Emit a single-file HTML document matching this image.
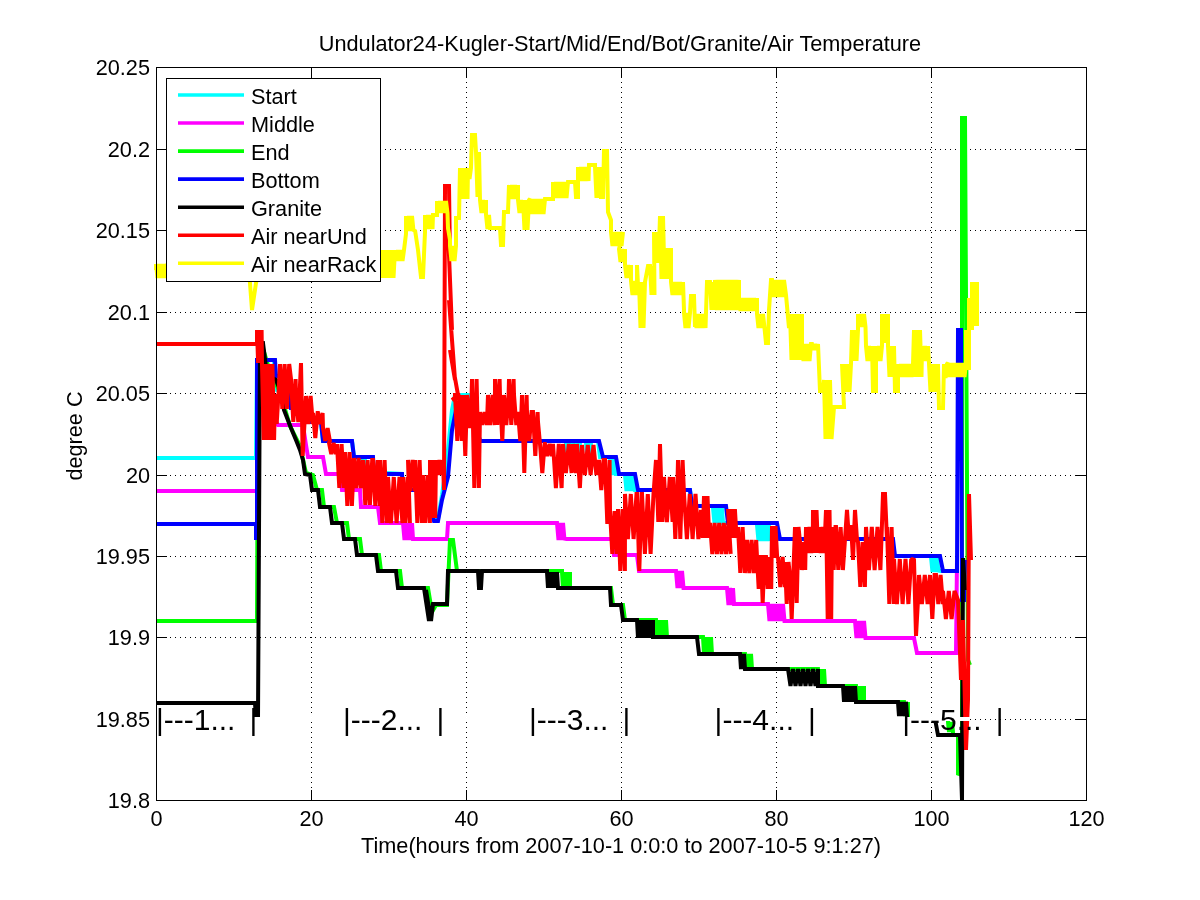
<!DOCTYPE html><html><head><meta charset="utf-8"><title>Undulator24 Temperature</title><style>html,body{margin:0;padding:0;background:#fff;width:1200px;height:900px;overflow:hidden}svg{display:block}</style></head><body><svg width="1200" height="900" viewBox="0 0 1200 900">
<rect x="0" y="0" width="1200" height="900" fill="#fff"/>
<g stroke="#000" stroke-width="1" stroke-dasharray="1 4" shape-rendering="crispEdges"><line x1="311.5" y1="67" x2="311.5" y2="800" /><line x1="466.5" y1="67" x2="466.5" y2="800" /><line x1="621.5" y1="67" x2="621.5" y2="800" /><line x1="776.5" y1="67" x2="776.5" y2="800" /><line x1="931.5" y1="67" x2="931.5" y2="800" /><line x1="160" y1="719.5" x2="1086" y2="719.5" /><line x1="160" y1="637.5" x2="1086" y2="637.5" /><line x1="160" y1="556.5" x2="1086" y2="556.5" /><line x1="160" y1="475.5" x2="1086" y2="475.5" /><line x1="160" y1="393.5" x2="1086" y2="393.5" /><line x1="160" y1="312.5" x2="1086" y2="312.5" /><line x1="160" y1="230.5" x2="1086" y2="230.5" /><line x1="160" y1="149.5" x2="1086" y2="149.5" /></g>
<g fill="none" stroke-width="4" stroke-linejoin="miter" stroke-miterlimit="1.5" stroke-linecap="butt">
<polyline stroke="#00ffff" points="156,458 256,458 257,360 274,360 275,376 277,390 290,393 291,408 303,408 304,422 321,422 323,441 352,441 354,457 365,460 368,472 402,474 403,490 420,490 430,506 434,519 438,519 442,495 447,460 452,410 455,395 470,395 472,408 476,425 480,441 566,441 566,443 567.5,457 569,443 570.5,457 572,443 573.5,457 575,443 576.5,457 578,443 579.5,457 580,441 582,441 586,441 586,443 587.5,458 589,443 590.5,458 591,441 598,441 600,457 610,457 610,458 611.5,475 613,458 614.5,475 616,458 616,474 625,474 625,475 626.5,491 628,475 629.5,491 631,475 632.5,491 634,475 635,490 690,490 692,506 713,506 713,508 714.5,523 716,508 717.5,523 719,508 720.5,523 722,508 723,523 757,523 757,525 758.5,541 760,525 761.5,541 763,525 764.5,541 766,525 767.5,541 769,525 770,539 891,539 893,556 931,556 931,557 932.5,572 934,557 935.5,572 937,557 938.5,572 939,571 957,571"/>
<polyline stroke="#ff00ff" points="156,491 257,491 257,440 262,380 270,410 278,425 303,425 306,445 308,457 323,457 326,474 340,474 342,490 360,490 361,507 378,507 380,523 403,523 403,523 404.5,540 406,523 407.5,540 409,523 410.5,540 412,523 413,539 447,539 448,523 557,523 557,523 558.5,540 560,523 561.5,540 563,523 564.5,540 565,539 612,539 614,555 637,555 639,571 676,571 676,571 677.5,588 679,571 680.5,588 682,571 683.5,588 684,588 727,588 727,588 728.5,605 730,588 731.5,605 733,588 734,604 768,604 768,604 769.5,621 771,604 772.5,621 774,604 775.5,621 777,604 778.5,621 780,604 781.5,621 783,604 784.5,621 785,621 855,621 855,621 856.5,638 858,621 859.5,638 861,621 862.5,638 864,621 865.5,638 866,638 914,638 917,653 956,653 957,560"/>
<polyline stroke="#00ff00" points="156,621 257,621 258,360 262,345 270,372 280,392 290,426 300,446 306,473 313,475 317,490 322,490 324,507 334,507 337,523 347,523 349,539 360,539 362,555 379,555 381,571 400,571 402,588 428,588 432,612 436,605 447,605 450,540 453,540 457,571 562,571 562,572 563,588 564,572 565,588 566,572 567,588 568,572 569,588 570,572 570,588 611,588 613,605 623,605 625,620 656,620 656,620 657,637 658,620 659,637 660,620 661,637 662,620 663,637 664,620 665,637 666,620 667,637 667,637 703,637 703,637 704,654 705,637 706,654 707,637 708,654 709,637 710,654 711,637 712,654 712,654 745,654 745,654 746,669 747,654 748,669 749,654 750,669 751,654 752,669 752,669 818,669 818,669 819,686 820,669 821,686 822,669 823,686 824,669 825,686 825,686 856,686 856,686 857,702 858,686 859,702 860,686 861,702 862,686 863,702 864,686 864,702 904,702 904,702 905,716 906,702 907,716 908,702 908,719 948,719 948,722 949,732 950,722 951,732 952,722 953,732 953,735 958,735 958,775 962,770 962,118 965,118 968,660 970,665"/>
<polyline stroke="#0000ff" points="156,524 256,524 256,538 257,538 257,360 275,360 276,376 280,376 281,393 290,393 291,408 303,408 304,422 321,422 323,441 352,441 354,457 373,457 374,474 402,474 403,490 420,490 430,506 434,521 438,521 442,500 448,477 452,430 456,410 472,410 476,425 480,441 599,441 603,457 616,457 619,474 635,474 638,490 690,490 692,506 726,506 728,523 777,523 780,539 893,539 895,556 940,556 943,571 957,571 958,330 961,330 962,600 964,600 965,560"/>
<polyline stroke="#000000" points="156,703 255,703 256,719 258,719 260,343 263,343 267,375 276,380 282,395 284,410 291,428 296,440 300,450 303,460 305,474 310,475 312,490 318,490 320,507 330,507 332,523 342,523 344,539 355,539 357,555 376,555 378,571 396,571 398,588 424,588 429,621 426,590 431,621 433,604 447,604 448,571 478,571 479,588 481,588 482,571 547,571 547,572 548,588 549,572 550,588 551,572 552,588 553,572 554,588 555,572 556,588 557,572 558,588 558,588 610,588 611,605 621,605 623,620 637,620 637,620 638,638 639,620 640,638 641,620 642,638 643,620 644,638 645,620 646,638 647,620 648,638 649,620 650,638 651,620 652,638 653,620 653,637 697,637 699,654 740,654 740,654 741,669 742,654 743,669 744,654 745,669 745,669 788,669 788,669 790.5,686 793,669 795.5,686 798,669 800.5,686 803,669 805.5,686 808,669 810.5,686 813,669 815.5,686 818,669 818,686 843,686 843,686 844,702 845,686 846,702 847,686 848,702 849,686 850,702 851,686 852,702 853,686 854,702 855,686 856,702 856,702 898,702 898,702 899,716 900,702 901,716 902,702 903,716 904,702 905,716 906,702 907,716 907,719 935,719 938,735 960,735 962,800 963,558 965,590"/>
<polyline stroke="#ff0000" points="156,344 255,344 257,344 257,330 258.1,363 259.3,330 260.4,363 261.6,330 262,364 263.7,440 265.5,364 267.2,440 268.9,364 270.6,440 272.4,364 274.1,440 275,394 276.7,424 278.5,394 280,364 282.3,409 284.6,364 286.9,409 289.2,364 291,379 293.3,422 295.6,379 296,396 298.3,422 301,363 302.7,456 306,396 308.3,424 310.6,396 312.9,424 313,413 315.3,438 317.6,413 318,413 320.3,424 322.6,413 323,428 325.3,441 327.6,428 329.9,441 329,443 331.3,454 333.6,443 335.9,454 337,444 339.3,488 341.6,444 343.9,488 345,452 347.3,506 349.6,452 351.9,506 354,458 356.3,488 358.6,458 360.9,488 363,460 365.3,505 367.6,460 369.9,505 372.2,460 373,460 375.3,506 377.6,460 379.9,506 380,460 382.3,523 384.6,460 386.9,523 388,477 390.9,523 393.8,477 396.6,523 399.5,477 402.4,523 403,477 405.3,523 407.6,477 409.9,523 408,460 410.3,491 412.6,460 414.9,491 415,460 417.3,523 419.6,460 421.9,523 423,475 425.3,523 427.6,475 429.9,523 430,460 431.7,518 433.5,460 435.2,518 436,460 437.7,475 439.5,460 441.2,475 442.9,460 444,490 445,186 449,186 450,260 448,230 452,330 449,300 455,380 450,350 458,395 452,400 460,395 455,395 457.3,441 459.6,395 461.9,441 463,395 465.3,456 467,395 469.3,428 471.6,395 472,379 474.3,488 476.6,379 478.9,488 480,412 482.3,425 484.6,412 486.9,425 488,395 490.3,425 492.6,395 494.9,425 495,379 497.3,425 499.6,379 500,395 502.3,441 504,395 506.3,425 508.6,395 509,379 511.3,425 513.6,379 514,395 516.3,425 518,412 520.3,441 522,395 524.3,473 526.6,395 527,412 529.3,441 531.6,412 533,412 535.3,456 537.6,412 538,422 540,444 542.3,473 544.6,444 545,444 547.3,456 549.6,444 551.9,456 553,444 555.9,488 558.8,444 561.6,488 563,444 565.9,473 568.8,444 571.6,473 573,444 575.9,473 577,444 579.9,488 582,445 584.9,475 587.8,445 590.6,475 593.5,445 596.4,475 599,460 601.3,490 603.6,460 605,460 607.3,524 609.6,460 610,511 612.3,554 614.6,511 616.9,554 618,509 620.3,571 622.6,509 624.9,571 625,494 627.9,539 630.8,494 633.6,539 636.5,494 637,494 639.3,571 641.6,494 642,494 644.9,554 647.8,494 650.6,554 653.5,494 656,460 658.3,522 660,444 662.3,522 664,477 666.9,522 669.8,477 672.6,522 673,477 675.3,539 677.6,477 678,460 680.3,539 682.6,460 684,494 686.9,539 689.8,494 692.6,539 695.5,494 698.4,539 701,510 702.7,538 704,496 705.7,538 707.5,496 709.2,538 710,523 712.3,554 714.6,523 716.9,554 719.2,523 721.5,554 723.8,523 726.1,554 728.4,523 730.7,554 728,509 729.7,538 731.5,509 733.2,538 734.9,509 736.6,538 738,527 740.3,573 742.6,527 744.9,573 747,540 749.3,573 751.6,540 753.9,573 756.2,540 757,557 758.7,589 760.5,557 761,557 762.7,603 764.5,557 766,557 767.7,589 769.5,557 771.2,589 772,526 773.7,558 775.5,526 777.2,558 778,557 780.3,587 782.6,557 784.9,587 785,562 786.7,604 788.5,562 790,577 791.7,619 795,527 796.7,603 798.5,527 800,542 801.7,570 803.5,542 805.2,570 806,527 807.7,553 809.5,527 811.2,553 812.9,527 813,510 814.7,553 816.5,510 818.2,553 819,527 820.7,553 822.5,527 824.2,553 826,510 827.7,619 829.5,510 831.2,619 832,527 833.7,570 835.5,527 836,527 838.3,570 840.6,527 842.9,570 847,510 849,540 851,525 853,560 855,510 857,540 858,542 860.3,587 862.6,542 864.9,587 866,527 868.9,570 871.8,527 874.6,570 877.5,527 880.4,570 883,494 885,494 887,540 887,527 889.3,604 891.6,527 893.9,604 894,559 896.9,604 899.8,559 902.6,604 905.5,559 908.4,604 911.2,559 914,560 916,636 918,600 919,575 921.9,604 924.8,575 927.6,604 930,575 932.3,619 934.6,575 936,575 938.3,604 940.6,575 942.9,604 943,591 945.9,619 948.8,591 951.6,619 954.5,591 958,600 961,680 963,620 966,750 968,700 969,494 971,560"/>
<polyline stroke="#ffff00" points="156,270 156,264 157.5,278 159,264 160.5,278 162,264 163.5,278 165,264 166.5,278 168,264 169.5,278 171,264 172.5,278 174,264 175.5,278 177,264 178.5,278 180,264 181.5,278 183,264 184.5,278 186,264 187.5,278 189,264 190.5,278 192,264 193.5,278 195,264 196.5,278 198,264 199.5,278 201,264 202.5,278 204,264 205.5,278 207,264 208.5,278 210,264 211.5,278 213,264 214.5,278 216,264 217.5,278 219,264 220.5,278 222,264 223.5,278 225,264 226.5,278 228,264 229.5,278 231,264 232.5,278 234,264 235.5,278 237,264 238.5,278 240,264 241.5,278 243,264 244.5,278 246,264 247.5,278 249,264 250.5,278 252,264 253.5,278 255,264 256.5,278 258,264 259.5,278 261,264 166,265 170,277 200,265 248,265 249,270 252,310 256,283 259,270 300,270 340,275 378,265 380,250 381.5,278 383,250 384.5,278 386,250 387.5,278 389,250 390.5,278 392,250 393.5,278 395,250 395,250 396.5,261 398,250 399.5,261 401,250 402.5,261 404,250 404,250 406,234 406,216 407.5,231 409,216 410.5,231 412,216 413.5,231 415,230 418,250 421,277 423,277 425,232 425,215 426.5,229 428,215 429.5,229 431,215 432.5,229 433,215 437,215 437,201 438.5,213 440,201 441.5,213 443,201 444.5,213 446,201 447.5,213 448,228 450,240 450,246 451.5,261 453,246 454.5,261 456,246 456,218 459,218 460,168 461.5,199 463,168 464.5,199 466,168 467.5,199 468,168 469.5,179 471,168 472,135 475,135 476,152 477.5,197 479,152 480,200 481.5,213 483,200 484.5,213 486,200 486,215 487.5,229 489,215 490,228 500,228 501,245 503,245 504,212 508,212 509,185 510.5,199 512,185 513.5,199 515,185 516.5,199 518,185 518,200 519.5,213 521,200 522.5,213 523,200 524.5,230 526,200 527.5,230 529,200 530,199 531.5,214 533,199 534.5,214 536,199 537.5,214 539,199 540.5,214 542,199 543.5,214 545,199 545,199 553,199 553,182 554.5,198 556,182 557.5,198 559,182 560.5,198 562,182 563.5,198 565,182 566.5,198 568,182 569,182 575,182 576,197 578,197 578,167 579.5,181 581,167 582.5,181 584,167 585.5,181 587,167 588.5,181 589,165 595,165 595,167 596.5,198 598,167 599.5,198 601,167 601,197 603,197 604,151 607,151 608,212 611,220 611,232 612.5,246 614,232 615.5,246 617,232 618.5,246 620,232 621.5,246 623,232 619,249 620.5,262 622,249 623.5,262 625,249 625,265 626.5,278 628,265 629.5,278 631,265 631,281 632.5,295 634,281 635.5,295 637,281 637,265 638.5,295 639,282 640.5,328 642,282 643.5,328 645,282 648,266 650,266 651.5,295 653,266 654.5,295 654,232 655.5,263 657,232 658.5,263 660,216 661.5,279 663,216 664.5,279 665,248 666.5,279 668,248 669.5,279 671,248 671,282 672.5,295 674,282 675.5,295 677,282 678.5,295 680,282 681.5,295 683,282 684,310 684,313 685.5,328 687,313 688.5,328 690,313 691,296 694,296 695,327 695,314 696.5,328 698,314 699.5,328 701,314 702.5,328 704,314 705.5,328 707,282 710,282 710,282 711.5,310 713,282 714.5,310 715,280 717,310 719,280 721,310 723,280 725,310 727,280 729,310 731,280 733,310 735,280 737,310 739,280 739,298 740.5,311 742,298 743.5,311 745,298 746.5,311 748,298 749.5,311 751,298 752.5,311 754,298 755.5,311 757,298 757,314 758.5,328 760,314 761.5,328 763,314 764.5,328 766,343 768,343 769,310 771,280 772,280 773.5,297 775,280 776.5,297 778,280 779.5,297 781,280 782.5,297 784,280 786,295 789,328 790,314 791.5,360 793,314 794.5,360 796,314 797.5,360 799,314 800.5,360 802,314 802,344 803.5,361 805,344 806.5,361 808,344 809.5,361 811,344 812,344 813.5,350 815,344 816.5,350 818,344 820,391 823,391 824,380 825.5,439 827,380 828.5,439 830,380 831.5,439 834,407 844,407 842,364 843.5,392 845,364 846.5,392 848,364 849.5,392 851,364 852,330 853.5,361 855,330 856.5,361 858,330 858,314 859.5,327 861,314 862.5,327 864,314 865.5,327 866,346 867.5,361 869,346 870.5,361 872,346 873,391 876,391 876,346 877.5,361 879,346 880.5,361 882,346 882,314 883.5,343 885,314 886.5,343 888,314 888,346 889.5,377 891,346 892.5,377 894,346 895,391 898,391 898,364 899.5,377 901,364 902.5,377 904,364 905.5,377 907,364 908.5,377 910,364 911.5,377 913,364 914,330 915.5,377 917,330 918.5,377 920,330 921.5,377 922,346 923.5,361 925,346 926.5,361 928,346 929,364 930.5,392 932,364 933.5,392 935,364 936.5,392 938,364 939,408 943,408 944,364 945.5,378 947,364 948,363 949.5,377 951,363 952.5,377 954,363 955.5,377 957,363 958.5,377 960,363 961.5,377 963,363 964.5,377 966,363 966,364 966,330 967,370 968,330 969,370 969,298 970,330 971,298 972,330 972,282 973,326 974,282 975,326 976,282 977,326 977,282"/>
</g>
<g stroke="#000" stroke-width="1" shape-rendering="crispEdges"><line x1="156.5" y1="800" x2="156.5" y2="790"/><line x1="156.5" y1="67" x2="156.5" y2="78"/><line x1="311.5" y1="800" x2="311.5" y2="790"/><line x1="311.5" y1="67" x2="311.5" y2="78"/><line x1="466.5" y1="800" x2="466.5" y2="790"/><line x1="466.5" y1="67" x2="466.5" y2="78"/><line x1="621.5" y1="800" x2="621.5" y2="790"/><line x1="621.5" y1="67" x2="621.5" y2="78"/><line x1="776.5" y1="800" x2="776.5" y2="790"/><line x1="776.5" y1="67" x2="776.5" y2="78"/><line x1="931.5" y1="800" x2="931.5" y2="790"/><line x1="931.5" y1="67" x2="931.5" y2="78"/><line x1="1086.5" y1="800" x2="1086.5" y2="790"/><line x1="1086.5" y1="67" x2="1086.5" y2="78"/><line x1="156" y1="800.5" x2="167" y2="800.5"/><line x1="1087" y1="800.5" x2="1075" y2="800.5"/><line x1="156" y1="719.5" x2="167" y2="719.5"/><line x1="1087" y1="719.5" x2="1075" y2="719.5"/><line x1="156" y1="637.5" x2="167" y2="637.5"/><line x1="1087" y1="637.5" x2="1075" y2="637.5"/><line x1="156" y1="556.5" x2="167" y2="556.5"/><line x1="1087" y1="556.5" x2="1075" y2="556.5"/><line x1="156" y1="475.5" x2="167" y2="475.5"/><line x1="1087" y1="475.5" x2="1075" y2="475.5"/><line x1="156" y1="393.5" x2="167" y2="393.5"/><line x1="1087" y1="393.5" x2="1075" y2="393.5"/><line x1="156" y1="312.5" x2="167" y2="312.5"/><line x1="1087" y1="312.5" x2="1075" y2="312.5"/><line x1="156" y1="230.5" x2="167" y2="230.5"/><line x1="1087" y1="230.5" x2="1075" y2="230.5"/><line x1="156" y1="149.5" x2="167" y2="149.5"/><line x1="1087" y1="149.5" x2="1075" y2="149.5"/><line x1="156" y1="67.5" x2="167" y2="67.5"/><line x1="1087" y1="67.5" x2="1075" y2="67.5"/></g>
<polyline fill="none" stroke="#fff" stroke-width="4" points="157,719 970,719"/>
<g stroke="#000" stroke-width="1" shape-rendering="crispEdges"><rect x="156.5" y="67.5" width="930" height="733" fill="none"/></g>
<g font-family="Liberation Sans, Arial, sans-serif" font-size="21.7" fill="#000">
<text x="156.5" y="826" text-anchor="middle">0</text>
<text x="311.5" y="826" text-anchor="middle">20</text>
<text x="466.5" y="826" text-anchor="middle">40</text>
<text x="621.5" y="826" text-anchor="middle">60</text>
<text x="776.5" y="826" text-anchor="middle">80</text>
<text x="931.5" y="826" text-anchor="middle">100</text>
<text x="1086.5" y="826" text-anchor="middle">120</text>
<text x="150" y="807.5" text-anchor="end">19.8</text>
<text x="150" y="726.5" text-anchor="end">19.85</text>
<text x="150" y="644.5" text-anchor="end">19.9</text>
<text x="150" y="563.5" text-anchor="end">19.95</text>
<text x="150" y="482.5" text-anchor="end">20</text>
<text x="150" y="400.5" text-anchor="end">20.05</text>
<text x="150" y="319.5" text-anchor="end">20.1</text>
<text x="150" y="237.5" text-anchor="end">20.15</text>
<text x="150" y="156.5" text-anchor="end">20.2</text>
<text x="150" y="74.5" text-anchor="end">20.25</text>
<text x="620" y="51" text-anchor="middle">Undulator24-Kugler-Start/Mid/End/Bot/Granite/Air Temperature</text>
<text x="621" y="853" text-anchor="middle">Time(hours from 2007-10-1 0:0:0 to 2007-10-5 9:1:27)</text>
<text transform="translate(82,436) rotate(-90)" text-anchor="middle">degree C</text>
</g>
<g font-family="Liberation Sans, Arial, sans-serif" font-size="30" fill="#000"><text x="156" y="730">|---1...</text><text x="249.5" y="730">|</text><text x="343" y="730">|---2...</text><text x="436.5" y="730">|</text><text x="529" y="730">|---3...</text><text x="622.5" y="730">|</text><text x="714.6" y="730">|---4...</text><text x="808.1" y="730">|</text><text x="902.2" y="730">|---5...</text><text x="995.7" y="730">|</text></g>
<rect x="166.5" y="78.5" width="214" height="203" fill="#fff" stroke="#000" stroke-width="1" shape-rendering="crispEdges"/>
<g font-family="Liberation Sans, Arial, sans-serif" font-size="21.7" fill="#000">
<line x1="178" y1="95.00" x2="244" y2="95.00" stroke="#00ffff" stroke-width="3.6"/>
<text x="251" y="103.50">Start</text>
<line x1="178" y1="123.05" x2="244" y2="123.05" stroke="#ff00ff" stroke-width="3.6"/>
<text x="251" y="131.55">Middle</text>
<line x1="178" y1="151.10" x2="244" y2="151.10" stroke="#00ff00" stroke-width="3.6"/>
<text x="251" y="159.60">End</text>
<line x1="178" y1="179.15" x2="244" y2="179.15" stroke="#0000ff" stroke-width="3.6"/>
<text x="251" y="187.65">Bottom</text>
<line x1="178" y1="207.20" x2="244" y2="207.20" stroke="#000000" stroke-width="3.6"/>
<text x="251" y="215.70">Granite</text>
<line x1="178" y1="235.25" x2="244" y2="235.25" stroke="#ff0000" stroke-width="3.6"/>
<text x="251" y="243.75">Air nearUnd</text>
<line x1="178" y1="263.30" x2="244" y2="263.30" stroke="#ffff00" stroke-width="3.6"/>
<text x="251" y="271.80">Air nearRack</text>
</g>
</svg></body></html>
